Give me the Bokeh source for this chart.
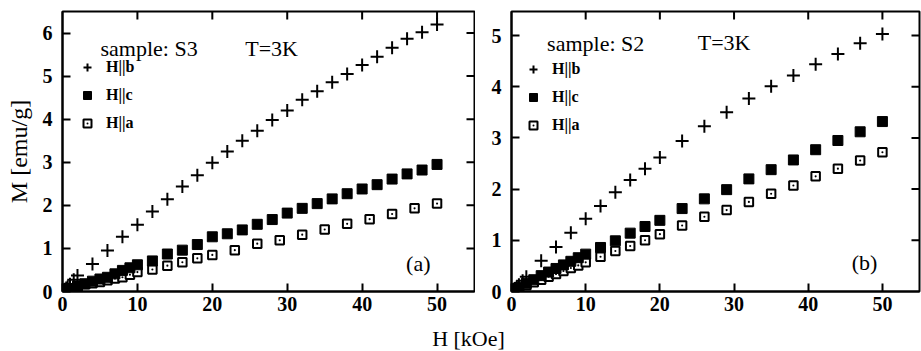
from bokeh.plotting import figure
from bokeh.models import (FixedTicker, Label, Legend, LegendItem, Range1d)
from bokeh.layouts import row, column
from bokeh.embed import file_html
from bokeh.resources import INLINE

# ---------------- data: sample S3 (panel a) ----------------
H_b_S3 = [0, 0.1, 0.2, 0.3, 0.5, 0.7, 1.0, 1.5, 2,
          4, 6, 8, 10, 12, 14, 16, 18, 20, 22, 24, 26, 28, 30, 32, 34, 36,
          38, 40, 42, 44, 46, 48, 50]
M_b_S3 = [0, 0.01, 0.03, 0.05, 0.08, 0.11, 0.17, 0.27, 0.37,
          0.64, 0.95, 1.27, 1.55, 1.86, 2.14, 2.44, 2.70, 2.99, 3.25, 3.50,
          3.73, 3.98, 4.20, 4.45, 4.65, 4.86, 5.05, 5.26, 5.45, 5.66, 5.87,
          6.02, 6.20]
H_c_S3 = [0, 0.1, 0.2, 0.3, 0.5, 0.7, 1, 2, 3, 4, 5, 6, 7, 8, 9, 10,
          12, 14, 16, 18, 20, 22, 24, 26, 28, 30, 32, 34, 36, 38, 40, 42,
          44, 46, 48, 50]
M_c_S3 = [0, 0.01, 0.02, 0.03, 0.04, 0.05, 0.07, 0.13, 0.18, 0.24, 0.29,
          0.33, 0.41, 0.49, 0.55, 0.62,
          0.71, 0.87, 0.96, 1.09, 1.27, 1.34, 1.43, 1.56, 1.67, 1.82, 1.93,
          2.04, 2.15, 2.27, 2.38, 2.48, 2.61, 2.73, 2.82, 2.95]
H_a_S3 = [0, 0.1, 0.2, 0.3, 0.5, 0.7, 1, 2, 3, 4, 5, 6, 7, 8, 9, 10,
          12, 14, 16, 18, 20, 23, 26, 29, 32, 35, 38, 41, 44, 47, 50]
M_a_S3 = [0, 0.01, 0.02, 0.03, 0.04, 0.05, 0.06, 0.11, 0.17, 0.19, 0.22,
          0.26, 0.30, 0.33, 0.39, 0.45,
          0.51, 0.60, 0.68, 0.77, 0.85, 0.96, 1.11, 1.19, 1.32, 1.44, 1.57,
          1.68, 1.80, 1.93, 2.04]

# ---------------- data: sample S2 (panel b) ----------------
H_b_S2 = [0, 0.1, 0.2, 0.3, 0.5, 0.7, 1.0, 1.5, 2,
          4, 6, 8, 10, 12, 14, 16, 18, 20, 23, 26, 29, 32, 35, 38, 41, 44,
          47, 50]
M_b_S2 = [0, 0.01, 0.03, 0.04, 0.06, 0.09, 0.13, 0.21, 0.29,
          0.60, 0.87, 1.15, 1.42, 1.67, 1.94, 2.18, 2.40, 2.62, 2.94, 3.23,
          3.50, 3.77, 4.01, 4.22, 4.44, 4.64, 4.85, 5.03]
H_c_S2 = [0, 0.1, 0.2, 0.3, 0.5, 0.7, 1, 2, 3, 4, 5, 6, 7, 8, 9, 10,
          12, 14, 16, 18, 20, 23, 26, 29, 32, 35, 38, 41, 44, 47, 50]
M_c_S2 = [0, 0.01, 0.02, 0.02, 0.04, 0.05, 0.08, 0.16, 0.23, 0.31, 0.38,
          0.45, 0.52, 0.59, 0.66, 0.73,
          0.86, 0.99, 1.14, 1.27, 1.39, 1.62, 1.81, 1.99, 2.20, 2.38, 2.57,
          2.77, 2.95, 3.12, 3.32]
H_a_S2 = [0, 0.1, 0.2, 0.3, 0.5, 0.7, 1, 2, 3, 4, 5, 6, 7, 8, 9, 10,
          12, 14, 16, 18, 20, 23, 26, 29, 32, 35, 38, 41, 44, 47, 50]
M_a_S2 = [0, 0.01, 0.01, 0.02, 0.03, 0.04, 0.06, 0.12, 0.18, 0.23, 0.29,
          0.34, 0.40, 0.46, 0.51, 0.57,
          0.68, 0.79, 0.89, 1.00, 1.12, 1.29, 1.46, 1.59, 1.75, 1.91, 2.07,
          2.25, 2.40, 2.56, 2.72]

legend_labels = ["H||b", "H||c", "H||a"]
x_tick_values = [0, 10, 20, 30, 40, 50]
y_tick_values_S3 = [0, 1, 2, 3, 4, 5, 6]
y_tick_values_S2 = [0, 1, 2, 3, 4, 5]

SERIF = "Liberation Serif"
XMAX = 55


def style_axis(ax, ticks):
    ax.ticker = FixedTicker(ticks=ticks)
    ax.major_tick_in = 8
    ax.major_tick_out = 0
    ax.minor_tick_in = 0
    ax.minor_tick_out = 0
    ax.axis_line_width = 2
    ax.axis_line_color = "black"
    ax.major_tick_line_width = 2
    ax.major_tick_line_color = "black"
    ax.major_label_text_font = SERIF
    ax.major_label_text_font_style = "bold"
    ax.major_label_text_font_size = "20px"
    ax.major_label_text_color = "black"


def panel(width, height, ymax, yticks, mb_left, mb_right, mb_top, mb_bottom,
          Hb, Mb, Hc, Mc, Ha, Ma, sample_text, tag, tag_xy, samp_xy, temp_xy,
          leg_loc, ylabel=None):
    p = figure(width=width, height=height, x_range=Range1d(0, XMAX),
               y_range=Range1d(0, ymax), output_backend="svg",
               toolbar_location=None, min_border_left=mb_left,
               min_border_right=mb_right, min_border_top=mb_top,
               min_border_bottom=mb_bottom, background_fill_color="white",
               border_fill_color="white")
    p.grid.visible = False
    p.outline_line_color = "black"
    p.outline_line_width = 2

    style_axis(p.xaxis[0], x_tick_values)
    p.xaxis[0].major_label_standoff = 5
    style_axis(p.yaxis[0], yticks)
    p.yaxis[0].major_label_standoff = 10
    if ylabel:
        p.yaxis[0].axis_label = ylabel
        p.yaxis[0].axis_label_text_font = SERIF
        p.yaxis[0].axis_label_text_font_style = "normal"
        p.yaxis[0].axis_label_text_font_size = "24px"
        p.yaxis[0].axis_label_standoff = 8
        p.yaxis[0].axis_label_text_color = "black"

    # mirrored inward ticks on the top and right frame edges
    top_x = [t for t in x_tick_values if 0 < t < XMAX]
    p.ray(x=top_x, y=[ymax] * len(top_x), length=8, length_units="screen",
          angle=-90, angle_units="deg", line_width=2, line_color="black")
    right_y = [t for t in yticks if 0 < t < ymax]
    p.ray(x=[XMAX] * len(right_y), y=right_y, length=8, length_units="screen",
          angle=180, angle_units="deg", line_width=2, line_color="black")

    ra = p.scatter(Ha, Ma, marker="square_dot", size=8.5, line_width=2,
                   line_color="black", fill_color="white")
    rc = p.scatter(Hc, Mc, marker="square", size=10, line_width=1,
                   line_color="black", fill_color="black")
    rb = p.scatter(Hb, Mb, marker="cross", size=13, line_width=2,
                   line_color="black")

    leg = Legend(items=[LegendItem(label=legend_labels[0], renderers=[rb]),
                        LegendItem(label=legend_labels[1], renderers=[rc]),
                        LegendItem(label=legend_labels[2], renderers=[ra])],
                 location=leg_loc, padding=0, margin=0, spacing=8,
                 glyph_width=20, glyph_height=20, label_height=20,
                 label_standoff=9, border_line_color=None,
                 background_fill_alpha=0,
                 label_text_font=SERIF, label_text_font_style="bold",
                 label_text_font_size="16px", label_text_color="black")
    p.add_layout(leg)

    p.add_layout(Label(x=samp_xy[0], y=samp_xy[1], text=sample_text,
                       text_font=SERIF, text_font_size="22px",
                       text_baseline="middle", text_align="left",
                       text_color="black"))
    p.add_layout(Label(x=temp_xy[0], y=temp_xy[1], text="T=3K",
                       text_font=SERIF, text_font_size="22px",
                       text_baseline="middle", text_align="left",
                       text_color="black"))
    p.add_layout(Label(x=tag_xy[0], y=tag_xy[1], text=tag,
                       text_font=SERIF, text_font_size="22px",
                       text_baseline="middle", text_align="center",
                       text_color="black"))
    return p


ROW_H = 318
p1 = panel(475, ROW_H, 6.5, y_tick_values_S3, 62, 1, 5, ROW_H - 291,
           H_b_S3, M_b_S3, H_c_S3, M_c_S3, H_a_S3, M_a_S3,
           "sample: S3", "(a)", (47.5, 0.66), (5.07, 5.63), (24.4, 5.63),
           (15, 158), ylabel="M [emu/g]")
p2 = panel(446, ROW_H, 5.47, y_tick_values_S2, 36, 2, 11, ROW_H - 292,
           H_b_S2, M_b_S2, H_c_S2, M_c_S2, H_a_S2, M_a_S2,
           "sample: S2", "(b)", (47.6, 0.56), (4.8, 4.85), (25.1, 4.87),
           (12, 156))

BOT_H = 351 - ROW_H
p3 = figure(width=921, height=BOT_H, x_range=Range1d(0, 921),
            y_range=Range1d(0, BOT_H), output_backend="svg",
            toolbar_location=None, min_border=0, x_axis_location=None,
            y_axis_location=None, background_fill_color="white",
            border_fill_color="white")
p3.grid.visible = False
p3.outline_line_color = None
p3.add_layout(Label(x=468, y=BOT_H - 20, text="H [kOe]", text_font=SERIF,
                    text_font_size="22px", text_baseline="middle",
                    text_align="center", text_color="black"))

layout = column(row(p1, p2), p3)
open("out.html", "w").write(file_html(layout, INLINE))
